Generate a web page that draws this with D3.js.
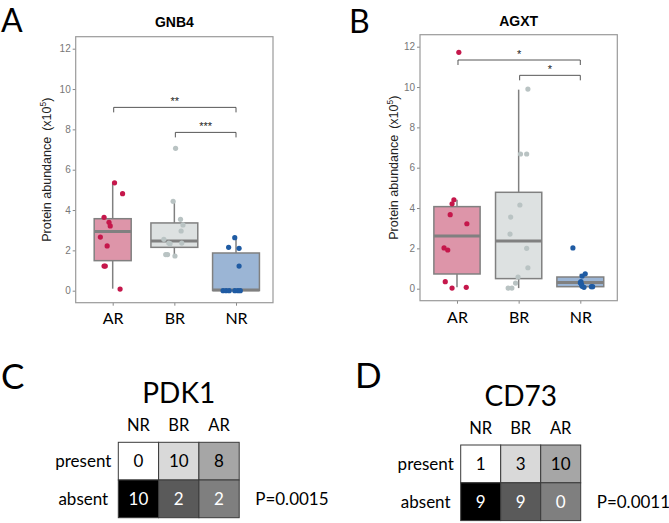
<!DOCTYPE html>
<html><head><meta charset="utf-8">
<script src="https://cdn.jsdelivr.net/npm/d3@7"></script>
<style>body{margin:0;background:#fff}</style>
</head><body><svg id="c" width="669" height="523"></svg>
<script>
// ---------- DATA ----------
const groups = ["AR", "BR", "NR"];
const yTicks = [0, 2, 4, 6, 8, 10, 12];

// GNB4 (panel A) — values (x10^5) and horizontal jitter (fraction of category step)
const gnb4AR = [5.35, 4.81, 3.64, 3.39, 3.21, 2.66, 2.22, 1.22, 1.22, 0.08];
const gnb4ARjit = [0.03, 0.16, -0.14, -0.06, -0.04, -0.20, -0.09, -0.14, -0.12, 0.12];
const gnb4BR = [7.06, 4.43, 3.54, 3.26, 2.96, 2.55, 2.36, 2.36, 2.33, 1.79, 1.79, 1.72];
const gnb4BRjit = [0.02, -0.02, 0.10, 0.14, 0.11, -0.17, -0.09, 0.12, -0.07, -0.14, -0.11, 0.01];
const gnb4NR = [2.63, 2.15, 2.10, 1.22, 0, 0, 0, 0, 0, 0];
const gnb4NRjit = [-0.02, -0.12, 0.05, 0.05, -0.21, -0.16, -0.11, -0.02, 0.03, 0.07];
// box stats: [lower whisker, Q1, median, Q3, upper whisker]
const gnb4BoxAR = [0.10, 1.49, 2.94, 3.57, 5.35];
const gnb4BoxBR = [1.72, 2.15, 2.46, 3.36, 4.43];
const gnb4BoxNR = [0, 0.01, 0.04, 1.87, 2.63];
const gnb4Sig = [["AR", "NR", 9.09, "**"], ["BR", "NR", 7.85, "***"]];

// AGXT (panel B)
const agxtAR = [11.72, 4.41, 4.21, 3.67, 3.22, 2.02, 1.92, 0.35, 0.03, 0.07];
const agxtARjit = [0.03, -0.05, -0.08, -0.11, 0.16, -0.21, -0.15, -0.19, -0.08, 0.15];
const agxtBR = [9.90, 6.68, 6.68, 4.15, 3.55, 2.71, 2.00, 1.04, 0.58, 0.28, 0.03, 0.03];
const agxtBRjit = [0.15, 0.03, 0.13, 0.02, -0.13, -0.14, 0.13, 0.15, -0.01, -0.05, -0.17, -0.11];
const agxtNR = [2.02, 0.74, 0.63, 0.35, 0.30, 0.21, 0.12, 0.07, 0.10, 0.10];
const agxtNRjit = [-0.12, 0.08, 0.03, 0.01, 0.00, 0.02, 0.03, 0.06, 0.18, 0.20];
const agxtBoxAR = [0.07, 0.73, 2.61, 4.07, 4.41];
const agxtBoxBR = [0.03, 0.50, 2.36, 4.78, 9.87];
const agxtBoxNR = [0.07, 0.10, 0.31, 0.58, 0.74];
const agxtSig = [["AR", "NR", 11.34, "*"], ["BR", "NR", 10.58, "*"]];

// Contingency tables (panels C, D)
const tableGroups = ["NR", "BR", "AR"];
const rowNames = ["present", "absent"];
const pdk1Present = [0, 10, 8];
const pdk1Absent = [10, 2, 2];
const pdk1P = "P=0.0015";
const cd73Present = [1, 3, 10];
const cd73Absent = [9, 9, 0];
const cd73P = "P=0.0011";

// ---------- STYLE ----------
const boxFill = {AR: "#dd95a9", BR: "#dde1e1", NR: "#9bb5d5"};
const ptFill = {AR: "#c5174b", BR: "#b9c3c3", NR: "#1f5ba3"};
const cellFill = {present: ["#ffffff", "#d9d9d9", "#a6a6a6"], absent: ["#000000", "#5a5a5a", "#7f7f7f"]};
const cellText = {present: ["#000", "#000", "#000"], absent: ["#fff", "#fff", "#fff"]};
const calibri = "Lato, 'Open Sans', sans-serif";
const arial = "'Liberation Sans', Arial, sans-serif";

const svg = d3.select("#c");

function boxPanel(o) {
  const x = d3.scalePoint().domain(groups).range([o.left, o.right]).padding(0.6);
  const y = d3.scaleLinear().domain([-0.595, 12.595]).range([o.bottom, o.top]);
  const step = x.step();
  const g = svg.append("g");

  // y axis
  const yg = g.append("g").attr("transform", `translate(${o.left},0)`)
    .call(d3.axisLeft(y).tickValues(yTicks).tickSize(3).tickPadding(2));
  yg.select(".domain").remove();
  yg.selectAll("line").attr("stroke", "#888");
  yg.selectAll("text").attr("fill", "#777").style("font-family", arial).style("font-size", "10px");

  // x axis
  const xg = g.append("g").attr("transform", `translate(0,${o.bottom})`)
    .call(d3.axisBottom(x).tickSize(3));
  xg.select(".domain").remove();
  xg.selectAll("line").attr("stroke", "#888");
  xg.selectAll("text").attr("y", o.labelOffset).attr("dy", 0).attr("fill", "#000")
    .style("font-family", calibri).style("font-size", "16px");

  // frame
  g.append("rect").attr("x", o.left).attr("y", o.top)
    .attr("width", o.right - o.left).attr("height", o.bottom - o.top)
    .attr("fill", "none").attr("stroke", "#9a9a9a").attr("stroke-width", 1.2);

  // boxes
  groups.forEach((gr, i) => {
    const s = o.box[i];
    const cx = x(gr);
    const w = o.boxW[i] * step;
    g.append("line").attr("x1", cx).attr("x2", cx).attr("y1", y(s[0])).attr("y2", y(s[1]))
      .attr("stroke", "#808080").attr("stroke-width", 1.5);
    g.append("line").attr("x1", cx).attr("x2", cx).attr("y1", y(s[3])).attr("y2", y(s[4]))
      .attr("stroke", "#808080").attr("stroke-width", 1.5);
    g.append("rect").attr("x", cx - w / 2).attr("width", w)
      .attr("y", y(s[3])).attr("height", y(s[1]) - y(s[3]))
      .attr("fill", boxFill[gr]).attr("stroke", "#808080").attr("stroke-width", 1.5);
    g.append("line").attr("x1", cx - w / 2).attr("x2", cx + w / 2).attr("y1", y(s[2])).attr("y2", y(s[2]))
      .attr("stroke", "#808080").attr("stroke-width", 3);
  });

  // points
  groups.forEach((gr, i) => {
    const vals = o.vals[i], jit = o.jit[i];
    g.selectAll(null).data(vals.map((v, k) => [v, jit[k]])).enter().append("circle")
      .attr("cx", d => x(gr) + d[1] * step).attr("cy", d => y(d[0])).attr("r", 2.6)
      .attr("fill", ptFill[gr]);
  });

  // significance brackets
  o.sig.forEach(sg => {
    const x1 = x(sg[0]) + 1, x2 = x(sg[1]), yy = y(sg[2]), t = 5;
    g.append("path").attr("d", `M${x1},${yy + t}V${yy}H${x2}V${yy + t}`)
      .attr("fill", "none").attr("stroke", "#444").attr("stroke-width", 0.9);
    g.append("text").attr("x", (x1 + x2) / 2).attr("y", yy - 2.5).attr("text-anchor", "middle")
      .attr("fill", "#222").style("font-family", arial).style("font-size", "11px").text(sg[3]);
  });

  // title
  g.append("text").attr("x", (o.left + o.right) / 2).attr("y", o.titleY).attr("text-anchor", "middle")
    .style("font-family", arial).style("font-size", "14px").style("font-weight", "bold").text(o.title);

  // y label
  const yl = g.append("text")
    .attr("transform", `translate(${o.ylabX},${(o.top + o.bottom) / 2}) rotate(-90)`)
    .attr("text-anchor", "middle").attr("fill", "#222")
    .style("font-family", arial).style("font-size", "12.5px");
  yl.append("tspan").text("Protein abundance");
  yl.append("tspan").attr("dx", 6).text("(x10");
  yl.append("tspan").attr("dy", -5).style("font-size", "8.5px").text("5");
  yl.append("tspan").attr("dy", 5).text(")");

  // panel letter
  g.append("text").attr("x", o.letterX).attr("y", o.letterY)
    .style("font-family", calibri).style("font-size", "32px").text(o.letter);
}

boxPanel({
  left: 75.7, right: 273, top: 36.7, bottom: 302.7, labelOffset: 21.6,
  vals: [gnb4AR, gnb4BR, gnb4NR], jit: [gnb4ARjit, gnb4BRjit, gnb4NRjit],
  box: [gnb4BoxAR, gnb4BoxBR, gnb4BoxNR], boxW: [0.6, 0.76, 0.76],
  sig: gnb4Sig, title: "GNB4", titleY: 26.7, ylabX: 51, letter: "A", letterX: 1, letterY: 31.8
});
boxPanel({
  left: 420, right: 617.3, top: 34.7, bottom: 300.7, labelOffset: 22,
  vals: [agxtAR, agxtBR, agxtNR], jit: [agxtARjit, agxtBRjit, agxtNRjit],
  box: [agxtBoxAR, agxtBoxBR, agxtBoxNR], boxW: [0.75, 0.75, 0.76],
  sig: agxtSig, title: "AGXT", titleY: 26, ylabX: 398, letter: "B", letterX: 349, letterY: 33
});

function tablePanel(o) {
  const g = svg.append("g");
  const cols = d3.scaleBand().domain(tableGroups).range([o.left, o.left + 3 * o.cw]);
  const rows = d3.scaleBand().domain(rowNames).range([o.top, o.top + 2 * o.ch]);
  const data = [o.present, o.absent];
  rowNames.forEach((rn, r) => {
    tableGroups.forEach((gn, c) => {
      g.append("rect").attr("x", cols(gn)).attr("y", rows(rn))
        .attr("width", cols.bandwidth()).attr("height", rows.bandwidth())
        .attr("fill", cellFill[rn][c]).attr("stroke", "#3a3a3a").attr("stroke-width", 1);
      g.append("text").attr("x", cols(gn) + cols.bandwidth() / 2).attr("y", rows(rn) + rows.bandwidth() / 2)
        .attr("dy", "0.36em").attr("text-anchor", "middle").attr("fill", cellText[rn][c])
        .style("font-family", calibri).style("font-size", "17px").text(data[r][c]);
    });
    g.append("text").attr("x", o.left - 35).attr("y", rows(rn) + rows.bandwidth() / 2).attr("dy", "0.36em")
      .attr("text-anchor", "middle").style("font-family", calibri).style("font-size", "17px").text(rn);
  });
  tableGroups.forEach(gn => {
    g.append("text").attr("x", cols(gn) + cols.bandwidth() / 2).attr("y", o.top - 11.5)
      .attr("text-anchor", "middle").style("font-family", calibri).style("font-size", "16.5px").text(gn);
  });
  g.append("text").attr("x", o.left + 1.5 * o.cw).attr("y", o.top - 39)
    .attr("text-anchor", "middle").style("font-family", calibri).style("font-size", "28px").text(o.title);
  g.append("text").attr("x", o.left + 3 * o.cw + 16).attr("y", rows("absent") + rows.bandwidth() / 2).attr("dy", "0.36em")
    .style("font-family", calibri).style("font-size", "17px").text(o.p);
  g.append("text").attr("x", o.letterX).attr("y", o.letterY)
    .style("font-family", calibri).style("font-size", "35px").text(o.letter);
}

tablePanel({left: 118.3, top: 442.3, cw: 40.3, ch: 37.7, present: pdk1Present, absent: pdk1Absent,
  title: "PDK1", p: pdk1P, letter: "C", letterX: 1, letterY: 389});
tablePanel({left: 460.7, top: 445, cw: 40, ch: 37.8, present: cd73Present, absent: cd73Absent,
  title: "CD73", p: cd73P, letter: "D", letterX: 355, letterY: 388});
</script></body></html>
